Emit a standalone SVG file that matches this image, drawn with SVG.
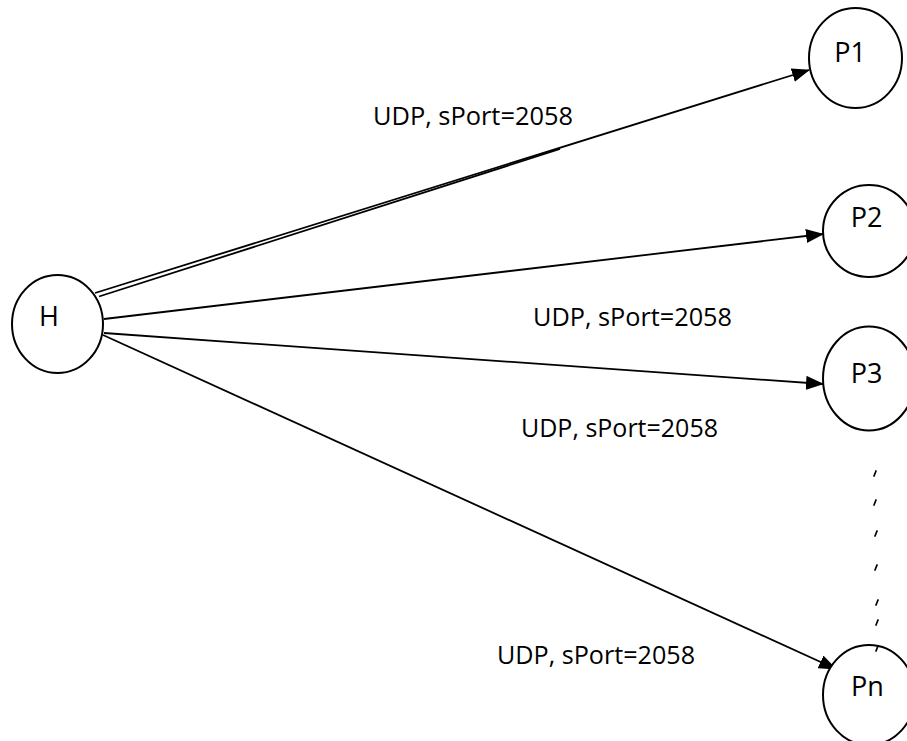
<svg xmlns="http://www.w3.org/2000/svg" width="907" height="741" viewBox="0 0 907 741">
<style>
.node{fill:#fff;stroke:#000;stroke-width:2}
.lbl{font-family:"Open Sans","Liberation Sans",Arial,sans-serif;font-size:26px;fill:#000}
.nl{font-family:"Open Sans","Liberation Sans",Arial,sans-serif;font-size:27px;fill:#000}
.edge{stroke:#000;stroke-width:1.8;fill:none}
.tick{stroke:#000;stroke-width:1.7;stroke-linecap:round}
</style>
<defs>
<marker id="ah" markerWidth="18" markerHeight="14" refX="17" refY="7" orient="auto" markerUnits="userSpaceOnUse">
<path d="M0,0 L18,7 L0,14 Z" fill="#000"/>
</marker>
</defs>
<rect width="907" height="741" fill="#fff"/>
<g id="connectors">
<line class="edge" x1="95" y1="293" x2="809" y2="70" marker-end="url(#ah)"/>
<line class="edge" x1="99" y1="296.5" x2="560" y2="149"/>
<line class="edge" x1="104" y1="319" x2="823" y2="234" marker-end="url(#ah)"/>
<line class="edge" x1="104" y1="333" x2="823" y2="384" marker-end="url(#ah)"/>
<line class="edge" x1="103" y1="335" x2="836" y2="669" marker-end="url(#ah)"/>
</g>
<g id="labels">
<text class="lbl" x="373" y="125" textLength="200" lengthAdjust="spacingAndGlyphs">UDP, sPort=2058</text>
<text class="lbl" x="533" y="326" textLength="199" lengthAdjust="spacingAndGlyphs">UDP, sPort=2058</text>
<text class="lbl" x="521" y="437" textLength="197" lengthAdjust="spacingAndGlyphs">UDP, sPort=2058</text>
<text class="lbl" x="497" y="664" textLength="198" lengthAdjust="spacingAndGlyphs">UDP, sPort=2058</text>
</g>
<g id="ellipsis">
<line class="tick" x1="876" y1="471" x2="874" y2="476"/>
<line class="tick" x1="876" y1="500" x2="874" y2="505"/>
<line class="tick" x1="877" y1="531" x2="875" y2="536"/>
<line class="tick" x1="877" y1="565" x2="875" y2="570"/>
<line class="tick" x1="878" y1="600" x2="876" y2="605"/>
<line class="tick" x1="878" y1="620" x2="876" y2="625"/>
</g>
<g id="H">
<ellipse class="node" cx="57.5" cy="324" rx="45.5" ry="49"/>
<text class="nl" x="49" y="326" text-anchor="middle" font-size="25">H</text>
</g>
<g id="P1">
<ellipse class="node" cx="855.5" cy="58" rx="46.5" ry="50"/>
<text class="nl" x="850" y="62" text-anchor="middle">P1</text>
</g>
<g id="P2">
<ellipse class="node" cx="869" cy="231" rx="46" ry="46"/>
<text class="nl" x="866.5" y="227" text-anchor="middle">P2</text>
</g>
<g id="P3">
<ellipse class="node" cx="869" cy="378.5" rx="46" ry="52"/>
<text class="nl" x="866.5" y="383" text-anchor="middle">P3</text>
</g>
<g id="Pn">
<ellipse class="node" cx="869" cy="695" rx="46" ry="50"/>
<line class="tick" x1="878" y1="646" x2="876" y2="651"/>
<text class="nl" x="867.5" y="696" text-anchor="middle">Pn</text>
</g>
</svg>
